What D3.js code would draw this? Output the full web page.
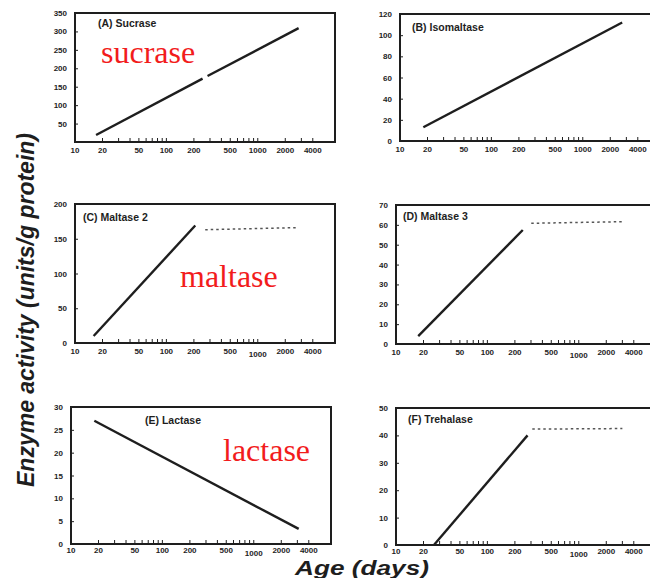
<!DOCTYPE html>
<html>
<head>
<meta charset="utf-8">
<script src="https://cdn.jsdelivr.net/npm/d3@7"></script>
<style>
  body { margin: 0; background: #fff; }
  svg { display: block; }
</style>
</head>
<body>
<svg id="chart" width="650" height="578"></svg>
<script>
// values (age in days, activity in units/g protein)
const titles = ['(A) Sucrase', '(B) Isomaltase', '(C) Maltase 2', '(D) Maltase 3', '(E) Lactase', '(F) Trehalase']
const yMaxes = [350, 120, 200, 70, 30, 50]
const yTickValues = [
    [50, 100, 150, 200, 250, 300, 350],
    [0, 20, 40, 60, 80, 100, 120],
    [0, 50, 100, 150, 200],
    [0, 10, 20, 30, 40, 50, 60, 70],
    [0, 5, 10, 15, 20, 25, 30],
    [0, 10, 20, 30, 40, 50]
]
const ageLabels = [10, 20, 50, 100, 200, 500, 1000, 2000, 4000]
const ageMinor = [20, 30, 40, 50, 60, 70, 80, 90, 100, 200, 300, 400, 500, 600, 700, 800, 900, 1000, 2000, 3000, 4000]

const sucrase = [[[17, 19], [249, 172]], [[282, 179], [2800, 309]]]
const isomaltase = [[[18, 13], [2700, 112]]]
const maltase2 = [[[16, 10], [207, 169]]]
const maltase2Late = [[266, 163], [2700, 166]]
const maltase3 = [[[17.5, 4], [244, 57.4]]]
const maltase3Late = [[302, 60.8], [3070, 61.6]]
const lactase = [[[18, 27], [3100, 3.3]]]
const trehalase = [[[26, 0], [275, 40]]]
const trehalaseLate = [[310, 42.3], [3000, 42.5]]

const solidSeries = [sucrase, isomaltase, maltase2, maltase3, lactase, trehalase]
const dottedSeries = [null, null, maltase2Late, maltase3Late, null, trehalaseLate]

// layout
const panelLeft = [75, 400, 75, 396, 71, 396]
const panelTop = [13, 14, 204, 205, 407, 408]
const panelBottom = [142, 141, 343, 344, 544, 545]
const panelWidth = 260
const titleOffset = [[23, 14], [12, 17], [8, 17], [7, 15], [74, 17], [12, 15]]
const labelGap = [11, 11, 11, 11, 9, 9]
const lowThousand = [false, false, true, true, true, true]

const svg = d3.select('#chart')
const ink = '#1e1e1e'

titles.forEach((title, i) => {
    const left = panelLeft[i], top = panelTop[i], bottom = panelBottom[i]
    const x = d3.scaleLog([10, 7000], [left, left + panelWidth])
    const y = d3.scaleLinear([0, yMaxes[i]], [bottom, top])
    const g = svg.append('g').attr('class', 'panel')

    // inward minor ticks on the age axis
    g.selectAll('.xtick')
        .data(ageMinor)
        .join('line')
            .attr('x1', d => x(d)).attr('x2', d => x(d))
            .attr('y1', bottom).attr('y2', bottom - 4)
            .attr('stroke', ink).attr('stroke-width', 1)

    g.selectAll('.xlab')
        .data(ageLabels)
        .join('text')
            .text(d => d)
            .attr('x', d => x(d))
            .attr('y', d => bottom + labelGap[i] + (lowThousand[i] && d === 1000 ? 3 : 0))
            .attr('text-anchor', 'middle')
            .attr('font-family', 'Liberation Sans, Arial, sans-serif')
            .attr('font-weight', 'bold')
            .attr('font-size', '8px')
            .attr('fill', ink)

    const yAxis = d3.axisLeft(y)
        .tickValues(yTickValues[i])
        .tickSize(-3)
        .tickPadding(8)
    const ya = g.append('g')
        .attr('transform', `translate(${left},0)`)
        .call(yAxis)
    ya.select('.domain').remove()
    ya.selectAll('line').attr('stroke', ink)
    ya.selectAll('text')
        .attr('font-family', 'Liberation Sans, Arial, sans-serif')
        .attr('font-weight', 'bold')
        .attr('font-size', '8px')
        .attr('fill', ink)

    const line = d3.line(d => x(d[0]), d => y(d[1]))

    g.selectAll('.solid')
        .data(solidSeries[i])
        .join('path')
            .attr('d', line)
            .attr('fill', 'none')
            .attr('stroke', ink)
            .attr('stroke-width', 2.4)

    if (dottedSeries[i]) {
        g.append('path')
            .attr('d', line(dottedSeries[i]))
            .attr('fill', 'none')
            .attr('stroke', '#555')
            .attr('stroke-width', 1.5)
            .attr('stroke-dasharray', '2.5,3')
    }

    g.append('rect')
        .attr('x', left).attr('y', top)
        .attr('width', panelWidth).attr('height', bottom - top)
        .attr('fill', 'none')
        .attr('stroke', ink)
        .attr('stroke-width', 2)

    g.append('text')
        .text(title)
        .attr('x', left + titleOffset[i][0])
        .attr('y', top + titleOffset[i][1])
        .attr('font-family', 'Liberation Sans, Arial, sans-serif')
        .attr('font-weight', 'bold')
        .attr('font-size', '10.5px')
        .attr('fill', ink)
})

// red annotations
const notes = [['sucrase', 101, 63], ['maltase', 180, 287], ['lactase', 223, 461]]
svg.selectAll('.note')
    .data(notes)
    .join('text')
        .text(d => d[0])
        .attr('x', d => d[1])
        .attr('y', d => d[2])
        .attr('font-family', 'Liberation Serif, Times New Roman, serif')
        .attr('font-size', '32px')
        .attr('fill', '#f21c1c')

svg.append('text')
    .text('Enzyme activity (units/g protein)')
    .attr('transform', 'translate(34,310) rotate(-90)')
    .attr('text-anchor', 'middle')
    .attr('font-family', 'Liberation Sans, Arial, sans-serif')
    .attr('font-style', 'italic')
    .attr('font-weight', 'bold')
    .attr('font-size', '23px')
    .attr('fill', ink)

svg.append('text')
    .text('Age (days)')
    .attr('x', 362)
    .attr('y', 575)
    .attr('text-anchor', 'middle')
    .attr('textLength', 134)
    .attr('lengthAdjust', 'spacingAndGlyphs')
    .attr('font-family', 'Liberation Sans, Arial, sans-serif')
    .attr('font-style', 'italic')
    .attr('font-weight', 'bold')
    .attr('font-size', '21px')
    .attr('fill', ink)
</script>
</body>
</html>
